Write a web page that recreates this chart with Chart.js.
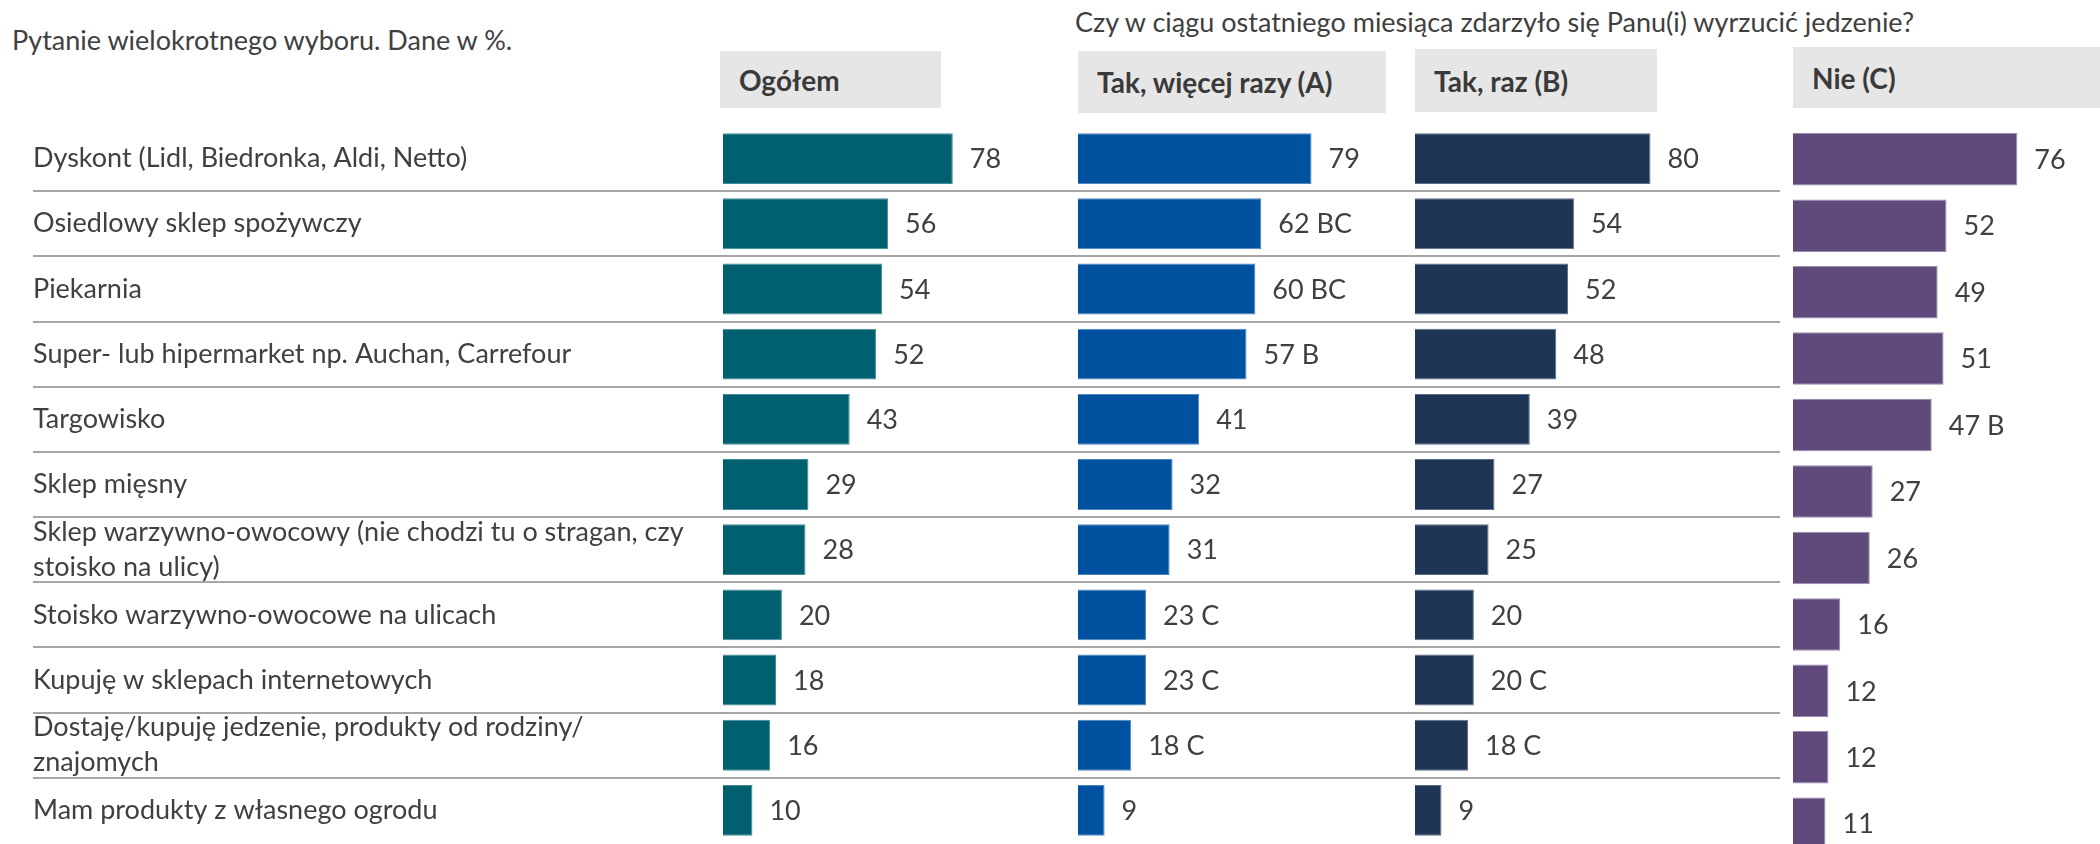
<!DOCTYPE html>
<html lang="pl">
<head>
<meta charset="utf-8">
<title>Gdzie kupuje Pan(i) jedzenie</title>
<script src="https://cdn.jsdelivr.net/npm/chart.js@4/dist/chart.umd.min.js"></script>
<style>
  body {
    margin: 0;
    width: 2100px;
    height: 844px;
    overflow: hidden;
    position: relative;
    background: #fff;
    font-family: Lato, "Open Sans", sans-serif;
    color: #404040;
  }
  .note { position: absolute; left: 12px; top: 23px; font-size: 27px; }
  .question { position: absolute; left: 1075px; top: 5px; font-size: 27px; }
  .head {
    position: absolute;
    box-sizing: border-box;
    display: flex;
    align-items: center;
    padding-left: 19px;
    background: #e7e6e6;
    font-size: 28px;
    font-weight: bold;
    color: #3a3a3a;
  }
  canvas { position: absolute; top: 0; }
</style>
</head>
<body>
<div class="note">Pytanie wielokrotnego wyboru. Dane w %.</div>
<div class="question">Czy w ciągu ostatniego miesiąca zdarzyło się Panu(i) wyrzucić jedzenie?</div>

<div class="head" style="left:720px;top:51px;width:221px;height:57px">Ogółem</div>
<div class="head" style="left:1078px;top:51px;width:308px;height:62px">Tak, więcej razy (A)</div>
<div class="head" style="left:1415px;top:49px;width:242px;height:63px">Tak, raz (B)</div>
<div class="head" style="left:1793px;top:47px;width:307px;height:61px">Nie (C)</div>

<canvas id="total" width="1050" height="880" style="left:0"></canvas>
<canvas id="often" width="365" height="880" style="left:1050px"></canvas>
<canvas id="once" width="365" height="880" style="left:1415px"></canvas>
<canvas id="never" width="307" height="880" style="left:1793px"></canvas>

<script>
const categories = [
  "Dyskont (Lidl, Biedronka, Aldi, Netto)",
  "Osiedlowy sklep spożywczy",
  "Piekarnia",
  "Super- lub hipermarket np. Auchan, Carrefour",
  "Targowisko",
  "Sklep mięsny",
  ["Sklep warzywno-owocowy (nie chodzi tu o stragan, czy", "stoisko na ulicy)"],
  "Stoisko warzywno-owocowe na ulicach",
  "Kupuję w sklepach internetowych",
  ["Dostaję/kupuję jedzenie, produkty od rodziny/", "znajomych"],
  "Mam produkty z własnego ogrodu",
];

const total = [78, 56, 54, 52, 43, 29, 28, 20, 18, 16, 10];
const often = [79, 62, 60, 57, 41, 32, 31, 23, 23, 18, 9];
const once = [80, 54, 52, 48, 39, 27, 25, 20, 20, 18, 9];
const never = [76, 52, 49, 51, 47, 27, 26, 16, 12, 12, 11];

// significance letters printed after the value
const oftenMarks = ["", "BC", "BC", "B", "", "", "", "C", "C", "C", ""];
const onceMarks = ["", "", "", "", "", "", "", "", "C", "C", ""];
const neverMarks = ["", "", "", "", "B", "", "", "", "", "", ""];

const TEXT = "#404040";
const RULE = "#a6a6a6";

const valueLabels = {
  id: "valueLabels",
  afterDatasetsDraw(chart) {
    const ctx = chart.ctx;
    const ds = chart.data.datasets[0];
    ctx.save();
    ctx.font = "27px Lato";
    ctx.fillStyle = TEXT;
    ctx.textBaseline = "middle";
    chart.getDatasetMeta(0).data.forEach((bar, i) => {
      const mark = ds.marks[i] ? " " + ds.marks[i] : "";
      ctx.fillText(ds.data[i] + mark, bar.x + 17, bar.y + 1);
    });
    ctx.restore();
  },
};

// no rule above the first row and none below the last one
function ruleColor(c) {
  return c.index === undefined || c.index === 0 ? "rgba(0,0,0,0)" : RULE;
}

function makePanel(id, values, marks, color, edge, cfg) {
  return new Chart(document.getElementById(id), {
    type: "bar",
    data: {
      labels: categories,
      datasets: [{
        data: values,
        marks: marks,
        backgroundColor: color,
        borderColor: edge,
        borderWidth: 1,
        categoryPercentage: 1,
        barPercentage: cfg.bar,
      }],
    },
    options: {
      indexAxis: "y",
      responsive: false,
      animation: false,
      layout: { padding: cfg.padding },
      plugins: { legend: { display: false }, tooltip: { enabled: false } },
      scales: {
        x: { display: false, min: 0, max: cfg.max },
        y: cfg.y,
      },
    },
    plugins: [valueLabels],
  });
}

// canvases run past the bottom edge; the last row is cut like in the slide
makePanel("total", total, [], "#00606f", "#3f8d9a", {
  bar: 0.78,
  max: 111,
  padding: { left: 33, top: 126, bottom: 37, right: 0 },
  y: {
    border: { display: false },
    grid: { color: ruleColor, lineWidth: 2, tickLength: 690 },
    ticks: {
      autoSkip: false,
      crossAlign: "far",
      padding: 0,
      color: TEXT,
      font: { family: "Lato", size: 27, lineHeight: 1.3 },
    },
    afterFit: (s) => { s.width = 690; },
  },
});

makePanel("often", often, oftenMarks, "#0052a0", "#4f86c0", {
  bar: 0.78,
  max: 114,
  padding: { left: 0, top: 126, bottom: 37, right: 0 },
  y: {
    border: { display: false },
    grid: { color: ruleColor, lineWidth: 2, tickLength: 28 },
    ticks: { display: false },
    afterFit: (s) => { s.width = 28; },
  },
});

makePanel("once", once, onceMarks, "#1f3556", "#5a6d88", {
  bar: 0.78,
  max: 124,
  padding: { left: 0, top: 126, bottom: 37, right: 0 },
  y: {
    border: { display: false },
    grid: { color: ruleColor, lineWidth: 2, drawTicks: false },
    ticks: { display: false },
    afterFit: (s) => { s.width = 0; },
  },
});

makePanel("never", never, neverMarks, "#604a7b", "#9a8bb0", {
  bar: 0.79,
  max: 104,
  padding: { left: 0, top: 126, bottom: 23, right: 0 },
  y: { display: false },
});
</script>
</body>
</html>
